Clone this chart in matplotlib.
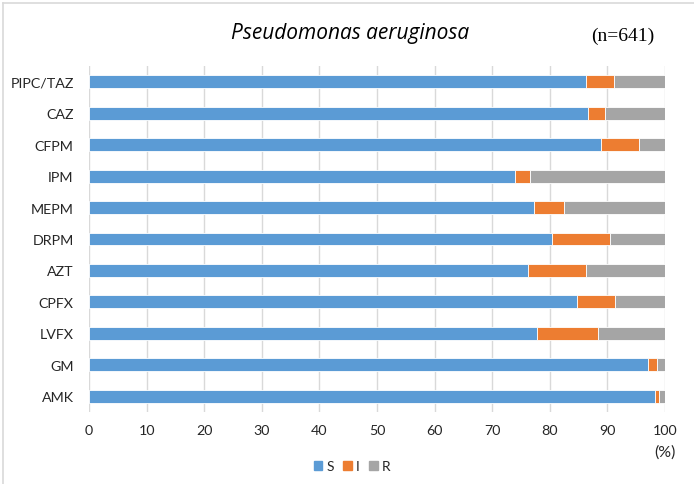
import matplotlib
matplotlib.use("Agg")
import matplotlib.pyplot as plt
import numpy as np
from matplotlib.lines import Line2D

drugs = ["PIPC/TAZ", "CAZ", "CFPM", "IPM", "MEPM", "DRPM", "AZT", "CPFX", "LVFX", "GM", "AMK"]
S = [86.2, 86.6, 88.9, 74.0, 77.3, 80.4, 76.3, 84.8, 77.8, 97.1, 98.3]
I = [5.0, 3.0, 6.5, 2.6, 5.1, 10.0, 9.9, 6.6, 10.6, 1.5, 0.7]
R = [8.8, 10.4, 4.6, 23.4, 17.6, 9.6, 13.8, 8.6, 11.6, 1.4, 1.0]
series_names = ["S", "I", "R"]
colors = ["#5B9BD5", "#ED7D31", "#A5A5A5"]
xticks = list(range(0, 101, 10))

plt.rcParams['font.family'] = ['Lato', 'DejaVu Sans']

W, H = 694, 485
fig = plt.figure(figsize=(W / 100, H / 100), dpi=100)
ax = fig.add_axes([89 / W, 1 - 413 / H, (665 - 89) / W, (413 - 67) / H])

y = np.arange(len(drugs))
left = np.zeros(len(drugs))
for vals, name, c in zip([S, I, R], series_names, colors):
    ax.barh(y, vals, left=left, height=0.41, color=c, label=name,
            edgecolor="white", linewidth=0.6)
    left = left + np.array(vals)

ax.set_xlim(0, 100)
ax.set_ylim(len(drugs) - 0.5, -0.5)
ax.set_yticks(y)
ax.set_yticklabels(drugs, fontsize=10.3, color="#262626")
ax.set_xticks(xticks)
ax.set_xticklabels([str(t) for t in xticks], fontsize=10.3, color="#262626")
ax.tick_params(axis="x", length=0, pad=9)
ax.tick_params(axis="y", length=0, pad=11)
ax.xaxis.grid(True, color="#D9D9D9", linewidth=1.0)
ax.set_axisbelow(True)
for s in ax.spines.values():
    s.set_visible(False)

fig.text(350 / W, 1 - 33 / H, "Pseudomonas aeruginosa", fontsize=15,
         style="italic", ha="center", va="center", color="black",
         family=["Open Sans", "DejaVu Sans"])
fig.text(623 / W, 1 - 36 / H, "(n=641)", fontsize=14, ha="center", va="center",
         family=["Liberation Serif", "DejaVu Serif"], color="black")
fig.text(665 / W, 1 - 453 / H, "(%)", fontsize=11.5, ha="center", va="center",
         color="#262626")

handles = [plt.Rectangle((0, 0), 1, 1, color=c) for c in colors]
fig.legend(handles, series_names, loc="center", bbox_to_anchor=(352 / W, 1 - 467 / H),
           ncol=3, frameon=False, fontsize=10, handlelength=0.6, handleheight=0.6,
           handletextpad=0.3, columnspacing=0.7, labelcolor="#262626")

# chart border (top and left)
fig.add_artist(Line2D([3 / W, 1], [1 - 4 / H, 1 - 4 / H], transform=fig.transFigure,
                      color="#D9D9D9", linewidth=1.2))
fig.add_artist(Line2D([3 / W, 3 / W], [0, 1 - 4 / H], transform=fig.transFigure,
                      color="#D9D9D9", linewidth=1.2))

fig.savefig("out.png", dpi=100)
